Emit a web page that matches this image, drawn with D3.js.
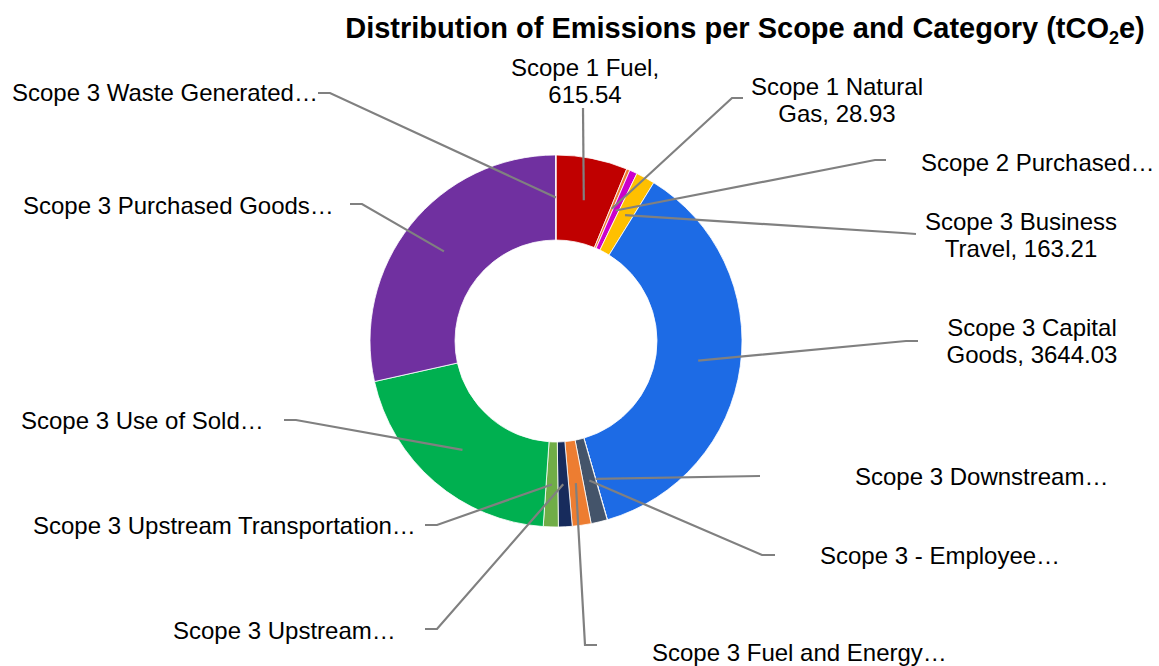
<!DOCTYPE html>
<html>
<head>
<meta charset="utf-8">
<script src="https://cdn.jsdelivr.net/npm/d3@7"></script>
<style>
  html, body { margin: 0; padding: 0; background: #fff; }
  svg { display: block; }
  text { font-family: "Liberation Sans", Arial, sans-serif; fill: #000; }
</style>
</head>
<body>
<svg id="chart" width="1159" height="666"></svg>
<script>
// ---- data ----
const categories = [
  "Scope 1 Fuel", "Scope 1 Natural Gas", "Scope 2 Purchased", "Scope 3 Business Travel",
  "Scope 3 Capital Goods", "Scope 3 Downstream", "Scope 3 - Employee", "Scope 3 Fuel and Energy",
  "Scope 3 Upstream", "Scope 3 Upstream Transportation", "Scope 3 Use of Sold",
  "Scope 3 Purchased Goods", "Scope 3 Waste Generated"
];
const values = [615.54, 28.93, 66, 163.21, 3644.03, 2, 140, 162, 118, 129, 2024, 2824, 3];
const labelLines = [
  ["Scope 1 Fuel,", "615.54"],
  ["Scope 1 Natural", "Gas, 28.93"],
  ["Scope 2 Purchased…"],
  ["Scope 3 Business", "Travel, 163.21"],
  ["Scope 3 Capital", "Goods, 3644.03"],
  ["Scope 3 Downstream…"],
  ["Scope 3 - Employee…"],
  ["Scope 3 Fuel and Energy…"],
  ["Scope 3 Upstream…"],
  ["Scope 3 Upstream Transportation…"],
  ["Scope 3 Use of Sold…"],
  ["Scope 3 Purchased Goods…"],
  ["Scope 3 Waste Generated…"]
];
const colors = ["#C00000", "#ED7D31", "#CC00CC", "#FFC000", "#1D6BE5", "#A5A5A5", "#44546A",
  "#ED7D31", "#172B5C", "#70AD47", "#00B050", "#7030A0", "#E8A0C8"];

// ---- layout (label placement, leader elbows) ----
const labelLayout = [
  {x: 585, y: 68, anchor: "middle", pts: [[583, 108]]},
  {x: 837, y: 87, anchor: "middle", pts: [[743, 98], [732, 98]]},
  {x: 921, y: 163, anchor: "start", pts: [[886, 160], [875, 160]]},
  {x: 1021, y: 222, anchor: "middle", pts: [[916, 234], [903, 233]]},
  {x: 1032, y: 328, anchor: "middle", pts: [[918, 341], [906, 341]]},
  {x: 855, y: 477, anchor: "start", pts: [[760, 476]]},
  {x: 820, y: 556, anchor: "start", pts: [[775, 555], [762, 555]]},
  {x: 652, y: 653, anchor: "start", pts: [[597, 645], [585, 645]]},
  {x: 173, y: 631, anchor: "start", pts: [[425, 629], [437, 629]]},
  {x: 33, y: 526, anchor: "start", pts: [[425, 525], [437, 525]]},
  {x: 21, y: 421, anchor: "start", pts: [[284, 420], [296, 420]]},
  {x: 23, y: 206, anchor: "start", pts: [[350, 204], [362, 204]]},
  {x: 12, y: 93, anchor: "start", pts: [[318, 93], [330, 93]]}
];

const cx = 556, cy = 341, outerR = 186, innerR = 101;
const fontSize = 24, lineH = 26.5;

const svg = d3.select("#chart");

// title
const title = svg.append("text")
  .attr("x", 745).attr("y", 28)
  .attr("text-anchor", "middle")
  .attr("dy", "0.35em")
  .style("font-weight", "bold")
  .style("font-size", "29px");
title.append("tspan").text("Distribution of Emissions per Scope and Category (tCO");
title.append("tspan").text("2").style("font-size", "18px").attr("dy", "6");
title.append("tspan").text("e)").attr("dy", "-6");

const data = categories.map((c, i) => ({name: c, value: values[i], idx: i}));
const pie = d3.pie().value(d => d.value).sort(null).startAngle(0).endAngle(2 * Math.PI);
const arcs = pie(data);
const arc = d3.arc().innerRadius(innerR).outerRadius(outerR);

const g = svg.append("g").attr("transform", `translate(${cx},${cy})`);
g.selectAll("path.slice").data(arcs).join("path")
  .attr("class", "slice")
  .attr("d", arc)
  .attr("fill", d => colors[d.data.idx])
  .attr("stroke", "#fff")
  .attr("stroke-width", 0.8);

// leader lines
const line = d3.line();
svg.append("g").selectAll("path.leader").data(arcs).join("path")
  .attr("class", "leader")
  .attr("d", d => {
    const c = arc.centroid(d);
    const anchorPt = [cx + c[0], cy + c[1]];
    const pts = labelLayout[d.data.idx].pts.concat([anchorPt]);
    return line(pts);
  })
  .attr("fill", "none")
  .attr("stroke", "#808080")
  .attr("stroke-width", 2.2);

// labels
const labels = svg.append("g").selectAll("text.lbl").data(arcs).join("text")
  .attr("class", "lbl")
  .attr("text-anchor", d => labelLayout[d.data.idx].anchor)
  .style("font-size", fontSize + "px");
labels.each(function(d) {
  const L = labelLayout[d.data.idx];
  d3.select(this).selectAll("tspan").data(labelLines[d.data.idx]).join("tspan")
    .attr("x", L.x)
    .attr("y", (t, k) => L.y + k * lineH)
    .attr("dy", "0.35em")
    .text(t => t);
});
</script>
</body>
</html>
